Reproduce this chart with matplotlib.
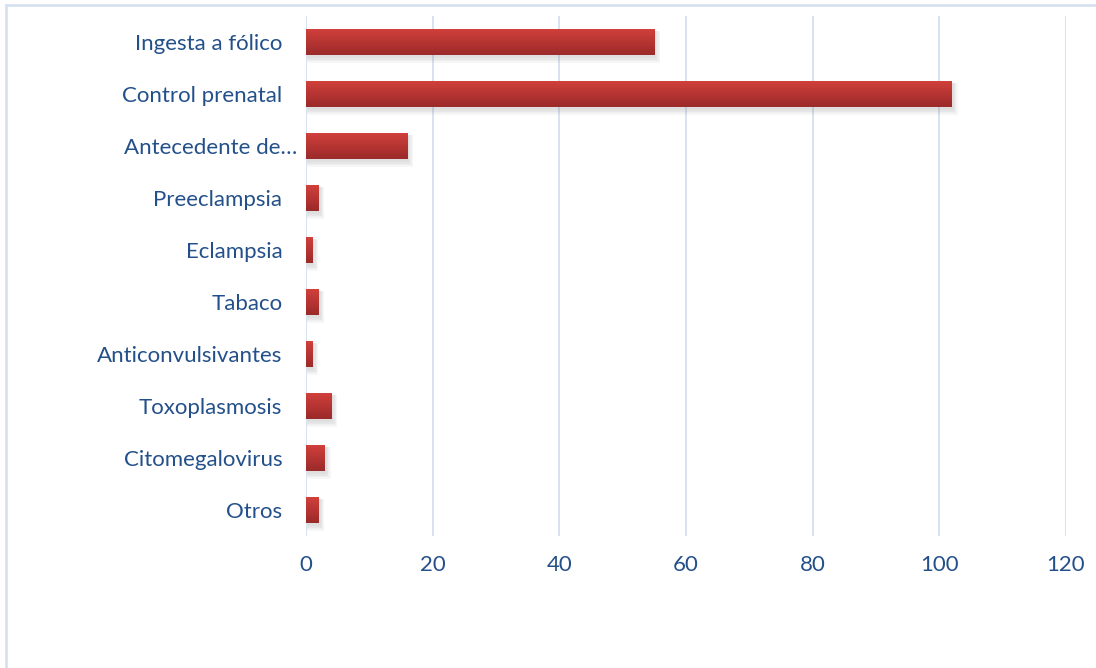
import numpy as np
import matplotlib
matplotlib.use("Agg")
import matplotlib.pyplot as plt
import matplotlib.transforms as mtransforms
from matplotlib.patches import Rectangle
from matplotlib.lines import Line2D

categories = ["Ingesta a fólico", "Control prenatal", "Antecedente de\u2026",
              "Preeclampsia", "Eclampsia", "Tabaco", "Anticonvulsivantes",
              "Toxoplasmosis", "Citomegalovirus", "Otros"]
values = [55, 102, 16, 2, 1, 2, 1, 4, 3, 2]
xticks = [0, 20, 40, 60, 80, 100, 120]

plt.rcParams['font.family'] = ['Lato', 'DejaVu Sans']
label_color = '#23508A'
grid_color = '#D3E0F0'

fig = plt.figure(figsize=(10.96, 6.68), dpi=100)
ax = fig.add_axes([0.2792, 0.1976, 0.6934, 0.7784])

ypos = np.arange(len(categories))
bars = ax.barh(ypos, values, height=0.5, color='none', zorder=3)

# vertical gradient (light red on top, darker at the bottom) plus a soft shadow below-right
grad = np.linspace(0, 1, 64).reshape(-1, 1)
cmap = matplotlib.colors.LinearSegmentedColormap.from_list('bar', ['#D0403C', '#9B2A2A'])
for b in bars:
    x0, y0, w, h = b.get_x(), b.get_y(), b.get_width(), b.get_height()
    for k in range(4):
        ax.add_patch(Rectangle((x0 + 0.1, y0 + 0.04), w + 0.2 + 0.2 * k, h + 0.02 + 0.03 * k,
                               facecolor='#606060', alpha=0.05, edgecolor='none', zorder=2))
    ax.imshow(grad, extent=(x0, x0 + w, y0 + h, y0), aspect='auto', cmap=cmap,
              zorder=4, interpolation='bicubic')

ax.set_xlim(0, 120)
ax.set_ylim(len(categories) - 0.5, -0.5)
ax.set_xticks(xticks)
ax.set_yticks(ypos)
ax.set_yticklabels(categories)
ax.tick_params(axis='both', length=0, labelsize=16, labelcolor=label_color)
ax.tick_params(axis='y', pad=17)
ax.tick_params(axis='x', pad=14)
ax.grid(axis='x', color=grid_color, linewidth=1.3, zorder=0)
for s in ax.spines.values():
    s.set_visible(False)
ax.set_axisbelow(True)

# the truncated label runs a bit closer to the axis
lbl = ax.get_yticklabels()[2]
lbl.set_transform(lbl.get_transform() + mtransforms.ScaledTranslation(15 / 100, 0, fig.dpi_scale_trans))

# light frame around the chart area
fig.add_artist(Line2D([0.0055, 0.0055], [0, 0.9925], color=grid_color, linewidth=1.8))
fig.add_artist(Line2D([0.0055, 1.0], [0.9925, 0.9925], color=grid_color, linewidth=1.8))

fig.savefig('out.png', dpi=100)
